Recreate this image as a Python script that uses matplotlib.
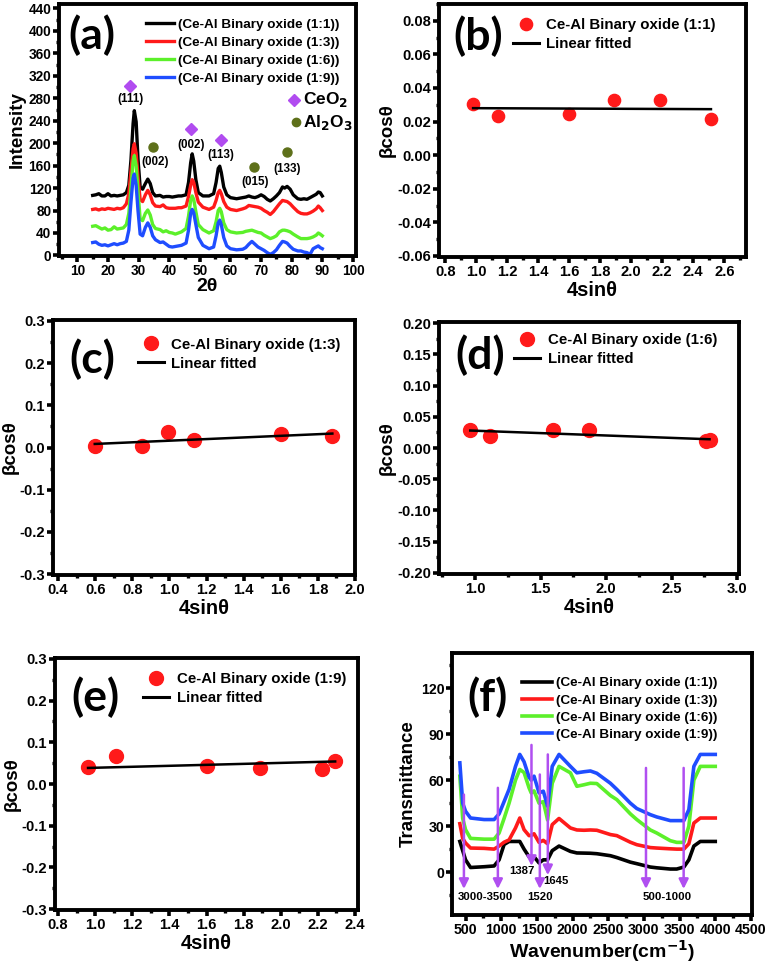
import matplotlib
matplotlib.use('Agg')
import matplotlib.pyplot as plt
from matplotlib.ticker import MultipleLocator, FormatStrFormatter
from matplotlib.lines import Line2D
import numpy as np

# ---------------- data ----------------
series_labels = ['(Ce-Al Binary oxide (1:1))', '(Ce-Al Binary oxide (1:3))',
                 '(Ce-Al Binary oxide (1:6))', '(Ce-Al Binary oxide (1:9))']
series_colors = ['#000000', '#ff1a1a', '#5cf02a', '#1f4dff']

# (a) XRD
xrd_2theta = [15, 16, 17, 18, 19, 20, 21, 22, 23, 24, 25, 26,
              26.8, 27.5, 28.2, 28.6, 29.2, 29.8, 30.5, 31.3, 32.2, 33, 33.8, 34.6, 35.5,
              37, 38, 39, 40, 41, 42, 43, 44,
              45.5, 46.3, 47, 47.5, 48, 48.7, 49.5,
              51, 53, 54.5, 55.3, 56, 56.5, 57, 57.8, 58.8,
              60, 62, 64, 65, 66, 67, 68, 69, 70, 71, 72, 73, 74, 75, 76, 77, 77.7, 78.5, 79.5, 80.5,
              82, 83, 84, 85, 86, 87, 88, 88.7, 89.3, 90]
xrd_11 = [107, 108, 110, 106, 106, 110, 106, 107, 106, 107, 108, 112,
          125, 170, 235, 258, 238, 172, 122, 118, 128, 136, 128, 112, 106,
          107, 104, 105, 105, 104, 105, 106, 106,
          108, 130, 165, 181, 168, 135, 112,
          106, 106, 110, 130, 155, 159, 148, 122, 108,
          103, 101, 103, 104, 106, 104, 103, 105, 108, 105, 100, 97, 101, 106, 112, 122, 120, 123, 118, 108,
          101, 100, 101, 100, 103, 106, 109, 113, 112, 106]
xrd_13 = [82, 83, 81, 83, 82, 84, 83, 82, 84, 83, 85, 92,
          110, 150, 190, 199, 182, 140, 100, 96, 108, 116, 108, 94, 88,
          87, 90, 85, 84, 84, 84, 85, 85,
          88, 105, 125, 135, 130, 112, 95,
          86, 82, 86, 98, 112, 116, 110, 96, 86,
          82, 80, 83, 85, 89, 88, 87, 86, 84, 80, 77, 73, 78, 85, 92, 98, 97, 96, 92, 86,
          78, 75, 74, 74, 76, 79, 83, 88, 85, 80]
xrd_16 = [52, 53, 50, 47, 49, 45, 46, 51, 47, 48, 49, 55,
          75, 120, 168, 178, 160, 115, 65, 62, 75, 81, 72, 55, 48,
          46, 42, 44, 41, 40, 38, 40, 42,
          48, 70, 98, 106, 100, 78, 55,
          46, 40, 44, 60, 80, 84, 78, 58, 46,
          42, 40, 41, 43, 44, 45, 43, 41, 40, 36, 33, 30, 32, 35, 42, 45, 45, 44, 42, 38,
          33, 30, 30, 30, 31, 33, 36, 40, 38, 35]
xrd_19 = [23, 24, 20, 18, 19, 17, 19, 21, 19, 21, 22, 25,
          45, 95, 138, 145, 125, 80, 38, 35, 50, 58, 50, 35, 28,
          23, 24, 20, 16, 15, 16, 17, 18,
          22, 45, 75, 82, 76, 55, 32,
          18, 12, 15, 35, 58, 63, 55, 32, 17,
          12, 10, 11, 14, 20, 25, 20, 15, 12, 9, 5, 2, 5, 10, 18, 25, 24, 22, 16, 11,
          8, 8, 6, 5, 2, 12, 15, 17, 14, 12]

ceo2_x = [27.2, 47.2, 56.9]
ceo2_y = [302, 226, 206]
ceo2_hkl = ['(111)', '(002)', '(113)']
ceo2_lbl_y = [278, 197, 179]
al2o3_x = [34.6, 67.7, 78.4]
al2o3_y = [194, 157, 184]
al2o3_hkl = ['(002)', '(015)', '(133)']
al2o3_lbl_x = [35.4, 68.0, 78.4]
al2o3_lbl_y = [166, 130, 154]

# (b)-(e) Williamson-Hall
wh_b_x = [0.98, 1.142, 1.60, 1.89, 2.187, 2.514]
wh_b_y = [0.0302, 0.0232, 0.0246, 0.0329, 0.0327, 0.0213]
fit_b_x = [0.98, 2.514]
fit_b_y = [0.0280, 0.0274]

wh_c_x = [0.598, 0.85, 0.993, 1.134, 1.60, 1.878]
wh_c_y = [0.0029, 0.0030, 0.0360, 0.0170, 0.0330, 0.0270]
fit_c_x = [0.598, 1.878]
fit_c_y = [0.0084, 0.0330]

wh_d_x = [0.964, 1.117, 1.596, 1.87, 2.76, 2.79]
wh_d_y = [0.0293, 0.0193, 0.0283, 0.0283, 0.0120, 0.0130]
fit_d_x = [0.964, 2.79]
fit_d_y = [0.0280, 0.0140]

wh_e_x = [0.962, 1.115, 1.60, 1.888, 2.221, 2.293]
wh_e_y = [0.0409, 0.0678, 0.0425, 0.0385, 0.0361, 0.0560]
fit_e_x = [0.962, 2.293]
fit_e_y = [0.0385, 0.0540]

# (f) FTIR
ftir_wn = [420, 460, 500, 570, 760, 900, 970, 1040, 1110, 1200, 1260, 1320, 1390, 1420, 1460,
           1530, 1590, 1650, 1715, 1810, 1970, 2060, 2160, 2250, 2340, 2530, 2620, 2810, 2900,
           3090, 3180, 3370, 3460, 3560, 3630, 3700, 3790, 4000]
ftir_11 = [20, 14, 8, 3, 3.5, 4, 8, 18, 20, 20, 20, 15, 10, 9.5, 10,
           6, 8, 8, 14, 17, 13.5, 12.5, 12.4, 12.3, 12, 10.7, 9.5, 6.5, 5.5,
           3.3, 2.8, 2, 2, 3.3, 8, 17, 20, 20]
ftir_13 = [31.6, 22, 19, 15.7, 15.5, 15, 17, 19.5, 21, 28.8, 35.3, 27.7, 23.8, 24, 25,
           19.4, 20.7, 18.5, 31, 35, 28.8, 27.5, 27.3, 27.5, 27.3, 24.5, 23.8, 19.5, 17.9,
           16, 15.7, 15.2, 15, 15, 18.5, 32, 35.3, 35.3]
ftir_16 = [62.6, 35, 27.7, 22, 21.5, 21.5, 25.5, 35, 45, 60, 67, 65, 55, 51.7, 53,
           45, 46, 34, 58, 69, 64.8, 56, 57, 58, 57.8, 50, 47.3, 38, 34.3,
           27.5, 25.5, 20.5, 19.4, 19.4, 30, 60, 69, 69]
ftir_19 = [71.3, 45, 39.7, 35.3, 34.3, 34.3, 38, 46, 54, 69, 76.8, 72, 62, 60, 62.6,
           51.7, 52.8, 43, 69, 76.8, 69, 64.8, 65.5, 66, 64.5, 58, 54, 45, 41.5,
           37.5, 36, 33.6, 33.6, 33.6, 40.8, 69, 76.8, 76.8]

arrow_x = [477, 953, 1424, 1541, 1653, 3029, 3557]
arrow_top = [50.6, 55, 83, 63.7, 76.8, 68, 68]
arrow_tip = [-11, -11, 4, -11, -2, -11, -11]
band_labels = ['3000-3500', '1387', '1520', '1645', '500-1000']
band_lbl_x = [780, 1293, 1541, 1760, 3323]
band_lbl_y = [-16, 0.4, -16, -6, -16]

# ---------------- style ----------------
plt.rcParams.update({
    'font.family': ['Liberation Sans', 'DejaVu Sans'],
    'font.weight': 'bold',
    'axes.labelweight': 'bold',
    'axes.unicode_minus': False,
    'axes.linewidth': 2.8,
    'mathtext.default': 'bf',
})

W, H = 767, 964
fig = plt.figure(figsize=(W / 100, H / 100), dpi=100)


def add_ax(l, t, r, b):
    return fig.add_axes([l / W, 1 - b / H, (r - l) / W, (b - t) / H])


def style(ax, xmaj, ymaj, xfmt, yfmt, fs=10.6):
    ax.xaxis.set_major_locator(MultipleLocator(xmaj))
    ax.xaxis.set_minor_locator(MultipleLocator(xmaj / 2))
    ax.yaxis.set_major_locator(MultipleLocator(ymaj))
    ax.yaxis.set_minor_locator(MultipleLocator(ymaj / 2))
    ax.xaxis.set_major_formatter(FormatStrFormatter(xfmt))
    ax.yaxis.set_major_formatter(FormatStrFormatter(yfmt))
    ax.tick_params(which='major', direction='out', length=4, width=2.6,
                   labelsize=fs, pad=1.5, top=False, right=False)
    ax.tick_params(which='minor', direction='out', length=2.5, width=2.4,
                   top=False, right=False)


def panel_letter(ax, s, x, y):
    ax.text(x, y, s, transform=ax.transAxes, ha='center', va='center',
            fontsize=32, fontweight='bold', family=['Lato', 'DejaVu Sans'])


# ---------- (a) ----------
ax = add_ax(59, 4, 356, 256)
for ys, c, lab in zip([xrd_11, xrd_13, xrd_16, xrd_19], series_colors, series_labels):
    ax.plot(xrd_2theta, ys, color=c, lw=2.4, label=lab, solid_joinstyle='round')
ax.set_xlim(4, 101)
ax.set_ylim(-1, 448)
style(ax, 10, 40, '%d', '%d', fs=9.8)
ax.set_xlabel('2θ', fontsize=14, labelpad=0)
ax.set_ylabel('Intensity', fontsize=13.5, labelpad=2)
ax.plot(ceo2_x, ceo2_y, 'D', color='#b14cf0', ms=6.5, ls='none')
ax.plot(al2o3_x, al2o3_y, 'o', color='#5e701a', ms=6.5, ls='none')
for x, y, t in zip(ceo2_x, ceo2_lbl_y, ceo2_hkl):
    ax.text(x, y, t, ha='center', va='center', fontsize=8.4)
for x, y, t in zip(al2o3_lbl_x, al2o3_lbl_y, al2o3_hkl):
    ax.text(x, y, t, ha='center', va='center', fontsize=8.4)
ax.legend(loc='upper left', bbox_to_anchor=(0.293, 0.944), frameon=False,
          fontsize=9.7, handlelength=2.1, handletextpad=0.25, labelspacing=0.43,
          borderpad=0, borderaxespad=0)
ax.plot([80.8], [277], 'D', color='#b14cf0', ms=6.5)
ax.text(83.6, 277, 'CeO$_2$', va='center', ha='left', fontsize=12.5)
ax.plot([81.4], [237], 'o', color='#5e701a', ms=6)
ax.text(83.6, 237, 'Al$_2$O$_3$', va='center', ha='left', fontsize=12.5)
panel_letter(ax, '(a)', 0.112, 0.875)


def wh_panel(rect, px, py, fx, fy, label, letter, xlim, ylim, xmaj, ymaj, xfmt, yfmt,
             leg_anchor, letter_pos, ms=10):
    ax = add_ax(*rect)
    ax.plot(px, py, 'o', color='#ff1a1a', ms=ms, ls='none', label=label, zorder=3)
    ax.plot(fx, fy, '-', color='black', lw=1.8, label='Linear fitted', zorder=4)
    ax.set_xlim(*xlim)
    ax.set_ylim(*ylim)
    style(ax, xmaj, ymaj, xfmt, yfmt)
    ax.set_xlabel('4sinθ', fontsize=14.5, labelpad=1.5)
    ax.set_ylabel('βcosθ', fontsize=13.5, labelpad=1)
    h = [Line2D([], [], marker='o', color='#ff1a1a', ls='none', ms=ms),
         Line2D([], [], color='black', lw=2.2)]
    ax.legend(h, [label, 'Linear fitted'], loc='upper left', bbox_to_anchor=leg_anchor,
              frameon=False, fontsize=10.8, handlelength=1.75, handletextpad=0.5,
              labelspacing=0.33, borderpad=0, borderaxespad=0)
    panel_letter(ax, letter, *letter_pos)
    return ax


wh_panel((439, 4, 746, 257), wh_b_x, wh_b_y, fit_b_x, fit_b_y,
         'Ce-Al Binary oxide (1:1)', '(b)', (0.76, 2.74), (-0.0606, 0.09),
         0.2, 0.02, '%.1f', '%.2f', (0.24, 0.944), (0.127, 0.872), ms=8.8)
wh_panel((53, 320, 355, 575), wh_c_x, wh_c_y, fit_c_x, fit_c_y,
         'Ce-Al Binary oxide (1:3)', '(c)', (0.373, 2.0), (-0.302, 0.302),
         0.2, 0.1, '%.1f', '%.1f', (0.28, 0.931), (0.129, 0.847))
wh_panel((439, 322, 739, 574), wh_d_x, wh_d_y, fit_d_x, fit_d_y,
         'Ce-Al Binary oxide (1:6)', '(d)', (0.725, 3.015), (-0.202, 0.202),
         0.5, 0.05, '%.1f', '%.2f', (0.25, 0.957), (0.137, 0.869))
wh_panel((55, 658, 358, 910), wh_e_x, wh_e_y, fit_e_x, fit_e_y,
         'Ce-Al Binary oxide (1:9)', '(e)', (0.784, 2.416), (-0.302, 0.302),
         0.2, 0.1, '%.1f', '%.1f', (0.29, 0.943), (0.135, 0.845))

# ---------- (f) ----------
ax = add_ax(452, 653, 752, 915)
for ys, c, lab in zip([ftir_11, ftir_13, ftir_16, ftir_19], series_colors, series_labels):
    ax.plot(ftir_wn, ys, color=c, lw=2.6, label=lab, solid_joinstyle='round')
ax.set_xlim(310, 4515)
ax.set_ylim(-28, 143)
style(ax, 500, 30, '%d', '%d', fs=10.2)
ax.set_xlabel('Wavenumber(cm$^{-1}$)', fontsize=14, labelpad=1)
ax.set_ylabel('Transmittance', fontsize=13.5, labelpad=3)
for x, y0, y1 in zip(arrow_x, arrow_top, arrow_tip):
    ax.annotate('', xy=(x, y1), xytext=(x, y0),
                arrowprops=dict(arrowstyle='-|>', color='#b04ff0', lw=1.8,
                                mutation_scale=14, shrinkA=0, shrinkB=0))
for x, y, t in zip(band_lbl_x, band_lbl_y, band_labels):
    ax.text(x, y, t, ha='center', va='center', fontsize=8.2)
ax.legend(loc='upper left', bbox_to_anchor=(0.233, 0.909), frameon=False,
          fontsize=9.7, handlelength=2.2, handletextpad=0.3, labelspacing=0.36,
          borderpad=0, borderaxespad=0)
panel_letter(ax, '(f)', 0.117, 0.83)

fig.savefig('out.png', dpi=100)
